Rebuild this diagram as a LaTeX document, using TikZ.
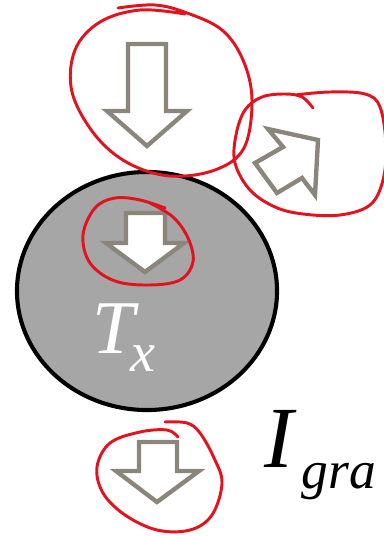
\documentclass[tikz,border=0pt]{standalone}
\usepackage{fontspec}
\setmainfont{Liberation Serif}
\usetikzlibrary{shapes.geometric}
\definecolor{arrowgray}{RGB}{139,134,124}
\definecolor{discgray}{RGB}{166,166,166}
\definecolor{penred}{RGB}{226,18,30}
\tikzset{
  disc/.style={ellipse, draw=black, line width=2.9pt, fill=discgray,
    minimum width=6.5cm, minimum height=5.95cm, inner sep=0pt},
  hollow/.style={draw=arrowgray, line width=3.1pt, fill=white, line join=miter},
  ring/.style={draw=penred, line width=2.1pt, line cap=round, line join=round},
  label/.style={anchor=base west, inner sep=0pt},
}
\begin{document}
\begin{tikzpicture}[x=0.025cm, y=-0.025cm]
  \useasboundingbox (0,0) rectangle (383,536);
  % the body
  \node[disc] (disc) at (147,291) {};
  \node[label, text=white] (tx) at (92,353)
    {\fontsize{54}{54}\selectfont\itshape T\kern-3pt\raisebox{-13.5pt}{\fontsize{40}{40}\selectfont x}};
  \node[label] (igrad) at (264,467)
    {\fontsize{62}{62}\selectfont\itshape I\kern6pt\raisebox{-15pt}{\fontsize{38}{38}\selectfont gra}};
  % hollow arrows
  \draw[hollow] (128,44) -- (166,44) -- (166,111) -- (187,111) -- (147,146) -- (107,111) -- (128,111) -- cycle;
  \draw[hollow] (255,163) -- (283,147) -- (268,129) -- (318,140) -- (315,195) -- (302,178) -- (277,193) -- cycle;
  \draw[hollow] (126,213) -- (165,213) -- (165,243) -- (184,243) -- (145,272) -- (106,243) -- (126,243) -- cycle;
  \draw[hollow] (139,442) -- (177,442) -- (177,471) -- (199,471) -- (157,502) -- (116,471) -- (139,471) -- cycle;
  % red pen rings
  \draw[ring] plot[smooth, tension=0.6] coordinates {(118,8) (155,5) (187,13) (222,30) (243,60) (252,100) (244,148) (215,170) (170,176) (128,163) (95,135) (72,92) (75,50) (100,22) (140,10) (185,14)};
  \draw[ring] plot[smooth, tension=0.6] coordinates {(313,108) (302,97) (285,94) (262,97) (245,110) (236,135) (235,163) (250,190) (275,207) (303,214) (340,215) (370,205) (383,180) (386,145) (380,107) (365,94) (330,92) (295,95)};
  \draw[ring] plot[smooth, tension=0.6] coordinates {(150,203) (173,217) (188,238) (193,262) (180,280) (150,285) (115,281) (90,263) (83,235) (95,208) (115,198) (140,200) (165,208)};
  \draw[ring] plot[smooth, tension=0.6] coordinates {(165,422) (187,423) (200,433) (214,458) (222,483) (212,515) (190,530) (157,530) (125,515) (103,493) (97,467) (110,443) (140,432) (167,430) (178,437)};
\end{tikzpicture}
\end{document}
